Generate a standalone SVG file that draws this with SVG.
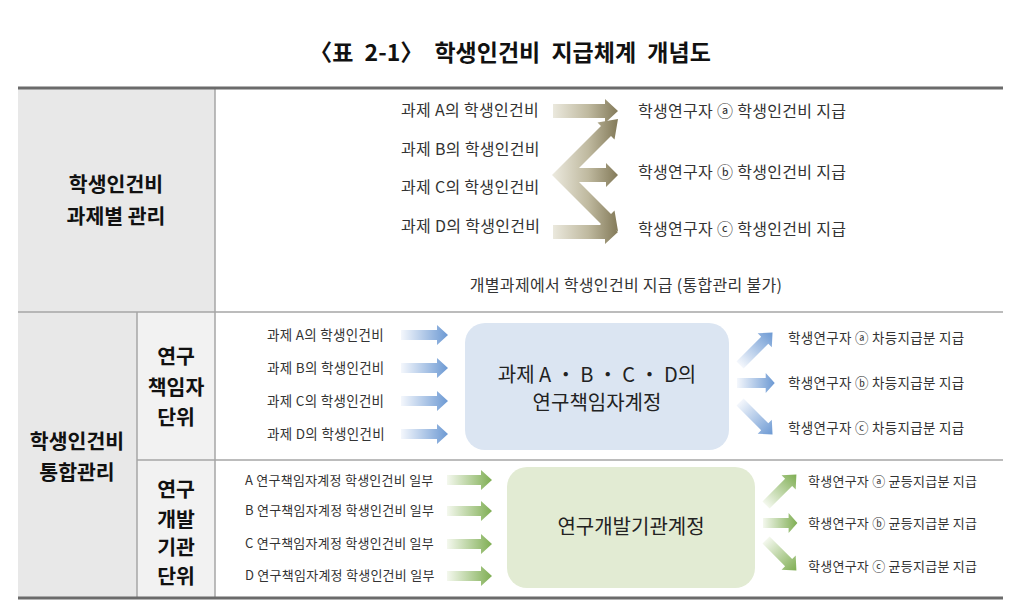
<svg xmlns="http://www.w3.org/2000/svg" width="1024" height="615" viewBox="0 0 1024 615">
  <defs>
    <linearGradient id="gOlive" gradientUnits="userSpaceOnUse" x1="552" y1="0" x2="618" y2="0">
      <stop offset="0" stop-color="#eceadf"/>
      <stop offset="0.55" stop-color="#bfb99f"/>
      <stop offset="1" stop-color="#837a59"/>
    </linearGradient>
    <linearGradient id="gBlue" x1="0" y1="0" x2="1" y2="0">
      <stop offset="0" stop-color="#f4f7fc"/>
      <stop offset="1" stop-color="#6c99d3"/>
    </linearGradient>
    <linearGradient id="gGreen" x1="0" y1="0" x2="1" y2="0">
      <stop offset="0" stop-color="#f4f8ee"/>
      <stop offset="1" stop-color="#7fae53"/>
    </linearGradient>
    <path id="arrBlueL" d="M0,-5 H36 V-10 L47,0 L36,10 V5 H0 Z"/>
    <path id="arrBlueR" d="M0,-5 H35 V-10 L46,0 L35,10 V5 H0 Z"/>
    <path id="arrGreenL" d="M0,-5 H34 V-10 L45,0 L34,10 V5 H0 Z"/>
    <path id="arrGreenR" d="M0,-5 H32 V-10 L43,0 L32,10 V5 H0 Z"/>
  </defs>
  <style>
    text { font-family: "Noto Sans CJK KR", "Noto Sans", sans-serif; fill: #333; }
    .title { font-size: 23px; font-weight: bold; fill: #111; }
    .hdr { font-size: 20.5px; font-weight: bold; fill: #111; text-anchor: middle; }
    .t16 { font-size: 16px; letter-spacing: 0.3px; }
    .tm { font-size: 13.5px; letter-spacing: 0.3px; }
    .tb { font-size: 13px; letter-spacing: 0.25px; }
    .box { font-size: 20px; text-anchor: middle; fill: #222; }
    .thin { stroke: #a6a6a6; stroke-width: 1.5; fill: none; }
    .thick { stroke: #6b6b6b; stroke-width: 3; fill: none; }
    .blue { fill: url(#gBlue); }
    .green { fill: url(#gGreen); }
    .olive { fill: url(#gOlive); }
  </style>

  <rect width="1024" height="615" fill="#ffffff"/>

  <text class="title" x="510" y="61" text-anchor="middle" word-spacing="6">〈표 2-1〉 학생인건비 지급체계 개념도</text>

  <g id="table">
    <rect x="18" y="88" width="197" height="224" fill="#e8e8e8"/>
    <rect x="18" y="312" width="119" height="286" fill="#e8e8e8"/>
    <rect x="137" y="312" width="78" height="286" fill="#f2f2f2"/>
    <line class="thin" x1="18" y1="312" x2="1003" y2="312"/>
    <line class="thin" x1="137" y1="460" x2="1003" y2="460"/>
    <line class="thin" x1="215" y1="88" x2="215" y2="598"/>
    <line class="thin" x1="137" y1="312" x2="137" y2="598"/>
    <line class="thick" x1="18" y1="88" x2="1003" y2="88"/>
    <line class="thick" x1="18" y1="598" x2="1003" y2="598"/>
  </g>

  <g id="hdr-individual">
    <text class="hdr" x="116" y="192">학생인건비</text>
    <text class="hdr" x="116" y="224">과제별 관리</text>
  </g>
  <g id="hdr-integrated">
    <text class="hdr" x="77" y="449">학생인건비</text>
    <text class="hdr" x="77" y="480">통합관리</text>
  </g>
  <g id="hdr-pi">
    <text class="hdr" x="176" y="364">연구</text>
    <text class="hdr" x="176" y="395">책임자</text>
    <text class="hdr" x="176" y="425">단위</text>
  </g>
  <g id="hdr-inst">
    <text class="hdr" x="176" y="497">연구</text>
    <text class="hdr" x="176" y="527">개발</text>
    <text class="hdr" x="176" y="555">기관</text>
    <text class="hdr" x="176" y="584">단위</text>
  </g>

  <g id="top-sources">
    <text class="t16" x="401" y="116">과제 A의 학생인건비</text>
    <text class="t16" x="401" y="155">과제 B의 학생인건비</text>
    <text class="t16" x="401" y="193">과제 C의 학생인건비</text>
    <text class="t16" x="401" y="232">과제 D의 학생인건비</text>
  </g>
  <g id="top-targets">
    <text class="t16" x="638" y="117">학생연구자 ⓐ 학생인건비 지급</text>
    <text class="t16" x="638" y="178">학생연구자 ⓑ 학생인건비 지급</text>
    <text class="t16" x="638" y="235">학생연구자 ⓒ 학생인건비 지급</text>
  </g>
  <text class="t16" x="626" y="291" text-anchor="middle">개별과제에서 학생인건비 지급 (통합관리 불가)</text>

  <g id="mid-sources">
    <text class="tm" x="267" y="340">과제 A의 학생인건비</text>
    <text class="tm" x="267" y="373">과제 B의 학생인건비</text>
    <text class="tm" x="267" y="406">과제 C의 학생인건비</text>
    <text class="tm" x="267" y="439">과제 D의 학생인건비</text>
  </g>
  <g id="pi-account">
    <rect x="465" y="323" width="264" height="127" rx="20" fill="#dbe5f2"/>
    <text class="box" x="597" y="382">과제 A ・ B ・ C ・ D의</text>
    <text class="box" x="597" y="410">연구책임자계정</text>
  </g>
  <g id="mid-targets">
    <text class="tm" x="788" y="343">학생연구자 ⓐ 차등지급분 지급</text>
    <text class="tm" x="788" y="388">학생연구자 ⓑ 차등지급분 지급</text>
    <text class="tm" x="788" y="433">학생연구자 ⓒ 차등지급분 지급</text>
  </g>

  <g id="bot-sources">
    <text class="tb" x="245" y="485">A 연구책임자계정 학생인건비 일부</text>
    <text class="tb" x="245" y="515">B 연구책임자계정 학생인건비 일부</text>
    <text class="tb" x="245" y="548">C 연구책임자계정 학생인건비 일부</text>
    <text class="tb" x="245" y="580">D 연구책임자계정 학생인건비 일부</text>
  </g>
  <g id="inst-account">
    <rect x="507" y="467" width="248" height="121" rx="20" fill="#e2ebd3"/>
    <text class="box" x="631" y="534">연구개발기관계정</text>
  </g>
  <g id="bot-targets">
    <text class="tb" x="808" y="486">학생연구자 ⓐ 균등지급분 지급</text>
    <text class="tb" x="808" y="528">학생연구자 ⓑ 균등지급분 지급</text>
    <text class="tb" x="808" y="571">학생연구자 ⓒ 균등지급분 지급</text>
  </g>

  <g id="connectors">
    <!-- top olive arrows -->
    <path class="olive" d="M553,104 H605 V99 L618,111 L605,123 V118 H553 Z"/>
    <path class="olive" d="M553,225 H605 V220 L618,232 L605,244 V239 H553 Z"/>
    <path class="olive" d="M618,119 L614.5,139.5 L611,136 L572,175 L611,214 L614.5,210.5 L618,231 L597.5,227.5 L601,224 L552,175 L601,126 L597.5,122.5 Z"/>
    <path class="olive" d="M566,168 H606 V163 L618,175 L606,187 V182 H566 Z"/>
    <!-- middle blue arrows -->
    <use href="#arrBlueL" class="blue" transform="translate(401,335)"/>
    <use href="#arrBlueL" class="blue" transform="translate(401,368)"/>
    <use href="#arrBlueL" class="blue" transform="translate(401,401)"/>
    <use href="#arrBlueL" class="blue" transform="translate(401,434)"/>
    <use href="#arrBlueR" class="blue" transform="translate(740,365) rotate(-45)"/>
    <use href="#arrBlueR" class="blue" transform="translate(737,383) scale(0.82,1)"/>
    <use href="#arrBlueR" class="blue" transform="translate(740,402) rotate(45)"/>
    <!-- bottom green arrows -->
    <use href="#arrGreenL" class="green" transform="translate(447,480)"/>
    <use href="#arrGreenL" class="green" transform="translate(447,511)"/>
    <use href="#arrGreenL" class="green" transform="translate(447,544)"/>
    <use href="#arrGreenL" class="green" transform="translate(447,576)"/>
    <use href="#arrGreenR" class="green" transform="translate(766,505) rotate(-45)"/>
    <use href="#arrGreenR" class="green" transform="translate(763,523) scale(0.8,1)"/>
    <use href="#arrGreenR" class="green" transform="translate(766,540) rotate(45)"/>
  </g>
</svg>
